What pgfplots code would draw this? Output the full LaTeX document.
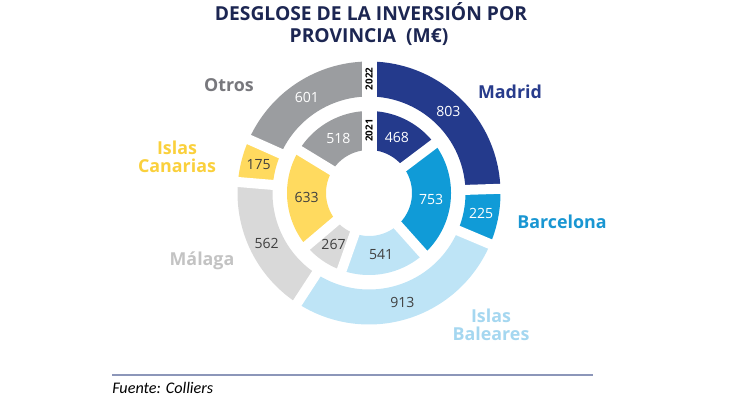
\documentclass[border=0pt]{standalone}
\usepackage{pgfplots}
\usepackage{pgfplotstable}
\pgfplotsset{compat=1.18}
\usepackage{fontspec}
\setmainfont{Open Sans}
\newfontfamily\srcfont{Carlito}

\definecolor{cMad}{RGB}{36,58,140}
\definecolor{cBar}{RGB}{16,155,215}
\definecolor{cBal}{RGB}{190,228,246}
\definecolor{cMal}{RGB}{217,217,217}
\definecolor{cCan}{RGB}{255,218,95}
\definecolor{cOtr}{RGB}{155,157,160}
\definecolor{tDark}{RGB}{64,64,64}
\definecolor{tTitle}{RGB}{28,38,82}
\definecolor{lMad}{RGB}{40,60,140}
\definecolor{lBar}{RGB}{25,150,210}
\definecolor{lBal}{RGB}{165,215,240}
\definecolor{lMal}{RGB}{195,195,195}
\definecolor{lCan}{RGB}{250,208,60}
\definecolor{lOtr}{RGB}{120,120,125}
\definecolor{rule}{RGB}{140,150,185}

\newcommand\slicecol[1]{\ifcase#1 cMad\or cBar\or cBal\or cMal\or cCan\or cOtr\fi}
\newcommand\valcol[1]{\ifcase#1 white\or white\or tDark\or tDark\or tDark\or white\fi}
\newcommand\valfont{\fontsize{10}{12}\selectfont}
\newcommand\catfont{\fontsize{12.7}{14}\selectfont\bfseries}
\newcommand\titlefont{\fontsize{13.7}{16}\selectfont\bfseries}
\newcommand\yearfont{\fontsize{7}{8}\selectfont\bfseries}

\pgfplotstableread{
name v22 v21
Madrid 803 468
Barcelona 225 753
Baleares 913 541
Malaga 562 267
Canarias 175 633
Otros 601 518
}\datatable

\begin{document}
\begin{tikzpicture}
\begin{axis}[x=0.25mm,y=0.25mm,xmin=0,xmax=732,ymin=0,ymax=400,hide axis,clip=false]
\def\cx{369}\def\cy{207}
\def\totA{0}\def\totB{0}
\pgfplotsforeachungrouped \i in {0,...,5}{%
 \pgfplotstablegetelem{\i}{v22}\of\datatable \pgfmathsetmacro\totA{\totA+\pgfplotsretval}%
 \pgfplotstablegetelem{\i}{v21}\of\datatable \pgfmathsetmacro\totB{\totB+\pgfplotsretval}%
}
% outer ring (2022)
\def\cum{0}
\pgfplotsforeachungrouped \i in {0,...,5}{%
 \pgfplotstablegetelem{\i}{v22}\of\datatable \let\v\pgfplotsretval
 \pgfmathsetmacro\aS{90-360*(\cum/\totA)}%
 \pgfmathsetmacro\cum{\cum+\v}%
 \pgfmathsetmacro\aE{90-360*(\cum/\totA)}%
 \edef\tmp{\noexpand\addplot[draw=\slicecol{\i},line width=8.75mm,domain=\aE:\aS,samples=90] ({\cx+114*cos(x)},{\cy+114*sin(x)});}%
 \tmp
}
% inner ring (2021)
\def\cum{0}
\pgfplotsforeachungrouped \i in {0,...,5}{%
 \pgfplotstablegetelem{\i}{v21}\of\datatable \let\v\pgfplotsretval
 \pgfmathsetmacro\aS{90-360*(\cum/\totB)}%
 \pgfmathsetmacro\cum{\cum+\v}%
 \pgfmathsetmacro\aE{90-360*(\cum/\totB)}%
 \edef\tmp{\noexpand\addplot[draw=\slicecol{\i},line width=9.75mm,domain=\aE:\aS,samples=70] ({\cx+62.5*cos(x)},{\cy+62.5*sin(x)});}%
 \tmp
}
% separators
\def\cum{0}
\pgfplotsforeachungrouped \i in {0,...,5}{%
 \pgfplotstablegetelem{\i}{v22}\of\datatable \let\v\pgfplotsretval
 \pgfmathsetmacro\cum{\cum+\v}%
 \pgfmathsetmacro\aE{90-360*(\cum/\totA)}%
 \edef\tmp{\noexpand\addplot[draw=white,line width=2.5mm,domain=90:140,samples=2] ({\cx+x*cos(\aE)},{\cy+x*sin(\aE)});}%
 \tmp
}
\def\cum{0}
\pgfplotsforeachungrouped \i in {0,...,5}{%
 \pgfplotstablegetelem{\i}{v21}\of\datatable \let\v\pgfplotsretval
 \pgfmathsetmacro\cum{\cum+\v}%
 \pgfmathsetmacro\aE{90-360*(\cum/\totB)}%
 \edef\tmp{\noexpand\addplot[draw=white,line width=2.5mm,domain=35:89,samples=2] ({\cx+x*cos(\aE)},{\cy+x*sin(\aE)});}%
 \tmp
}
\addplot[draw=white,line width=3.75mm,domain=35:140,samples=2] ({\cx},{\cy+x});
% value labels
\def\cum{0}
\pgfplotsforeachungrouped \i in {0,...,5}{%
 \pgfplotstablegetelem{\i}{v22}\of\datatable \let\v\pgfplotsretval
 \pgfmathsetmacro\aS{90-360*(\cum/\totA)}%
 \pgfmathsetmacro\cum{\cum+\v}%
 \pgfmathsetmacro\aE{90-360*(\cum/\totA)}%
 \pgfmathsetmacro\lx{\cx+114*cos((\aS+\aE)/2)}%
 \pgfmathsetmacro\ly{\cy+114*sin((\aS+\aE)/2)}%
 \edef\tmp{\noexpand\node[text=\valcol{\i},font=\noexpand\valfont] at (axis cs:\lx,\ly) {\v};}%
 \tmp
}
\def\cum{0}
\pgfplotsforeachungrouped \i in {0,...,5}{%
 \pgfplotstablegetelem{\i}{v21}\of\datatable \let\v\pgfplotsretval
 \pgfmathsetmacro\aS{90-360*(\cum/\totB)}%
 \pgfmathsetmacro\cum{\cum+\v}%
 \pgfmathsetmacro\aE{90-360*(\cum/\totB)}%
 \pgfmathsetmacro\lx{\cx+62.5*cos((\aS+\aE)/2)}%
 \pgfmathsetmacro\ly{\cy+62.5*sin((\aS+\aE)/2)}%
 \edef\tmp{\noexpand\node[text=\valcol{\i},font=\noexpand\valfont] at (axis cs:\lx,\ly) {\v};}%
 \tmp
}
% year labels
\node[rotate=90,font=\yearfont,text=black,inner sep=0pt] at (axis cs:369,321) {2022};
\node[rotate=90,font=\yearfont,text=black,inner sep=0pt] at (axis cs:369,269.5) {2021};
% titles
\node[font=\titlefont,text=tTitle] at (axis cs:371,388) {DESGLOSE DE LA INVERSIÓN POR};
\node[font=\titlefont,text=tTitle] at (axis cs:369,363) {PROVINCIA~~(M€)};
% category labels
\node[font=\catfont,text=lMad] at (axis cs:510,308) {Madrid};
\node[font=\catfont,text=lBar] at (axis cs:562,178) {Barcelona};
\node[font=\catfont,text=lBal,align=center] at (axis cs:491,75.5) {Islas\\[-1pt]Baleares};
\node[font=\catfont,text=lOtr] at (axis cs:229,315) {Otros};
\node[font=\catfont,text=lCan,align=center] at (axis cs:177,243) {Islas\\[-1pt]Canarias};
\node[font=\catfont,text=lMal] at (axis cs:202,139) {Málaga};
% source
\draw[rule,line width=0.5mm] (axis cs:112,25) -- (axis cs:593,25);
\node[font=\srcfont\itshape\fontsize{11.5}{13}\selectfont,text=black,anchor=west,inner sep=0pt] at (axis cs:112,12) {Fuente: Colliers};
\end{axis}
\pgfresetboundingbox
\path (current axis.south west) rectangle (current axis.north east);
\end{tikzpicture}
\end{document}
